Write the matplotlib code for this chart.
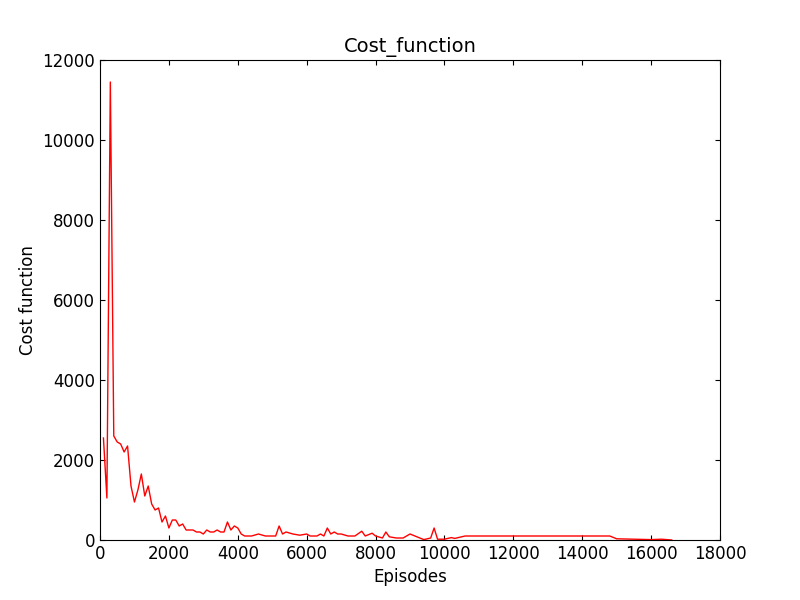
import matplotlib
matplotlib.use("Agg")
import matplotlib.pyplot as plt

episodes = [100, 200, 300, 400, 500, 600, 700, 800, 900, 1000, 1100, 1200, 1300, 1400,
            1500, 1600, 1700, 1800, 1900, 2000, 2100, 2200, 2300, 2400, 2500, 2600, 2700,
            2800, 2900, 3000, 3100, 3200, 3300, 3400, 3500, 3600, 3700, 3800, 3900, 4000,
            4100, 4200, 4400, 4600, 4800, 5000, 5100, 5200, 5300, 5400, 5600, 5800, 6000,
            6100, 6300, 6400, 6500, 6600, 6700, 6800, 6900, 7000, 7200, 7400, 7600, 7700,
            7900, 8000, 8200, 8300, 8400, 8600, 8800, 9000, 9200, 9400, 9600, 9700, 9800,
            10000, 10200, 10300, 10500, 10600, 12000, 13000, 14000, 14800, 15000, 16000,
            16300, 16600]
cost = [2550, 1050, 11450, 2600, 2450, 2400, 2200, 2350, 1350, 950, 1250, 1650, 1100, 1350,
        900, 750, 800, 450, 600, 300, 500, 500, 350, 400, 250, 250, 250,
        200, 200, 150, 250, 200, 200, 250, 200, 200, 450, 250, 350, 300,
        150, 100, 100, 150, 100, 100, 100, 350, 150, 200, 150, 120, 150,
        100, 100, 150, 100, 300, 150, 200, 150, 150, 100, 100, 220, 100,
        170, 100, 50, 200, 80, 50, 50, 150, 80, 10, 50, 300, 20,
        20, 60, 40, 80, 100, 100, 100, 100, 100, 30, 10,
        20, 0]

fig, ax = plt.subplots(figsize=(8, 6), dpi=100)
fig.subplots_adjust(left=0.125, right=0.9, bottom=0.1, top=0.9)
ax.plot(episodes, cost, color="red", linewidth=1)
ax.set_xlim(0, 18000)
ax.set_ylim(0, 12000)
ax.set_xticks(range(0, 18001, 2000))
ax.set_yticks(range(0, 12001, 2000))
ax.tick_params(direction="in", top=True, right=True, labelsize=12)
ax.set_title("Cost_function", fontsize=14)
ax.set_xlabel("Episodes", fontsize=12)
ax.set_ylabel("Cost function", fontsize=12)
fig.savefig("out.png")
